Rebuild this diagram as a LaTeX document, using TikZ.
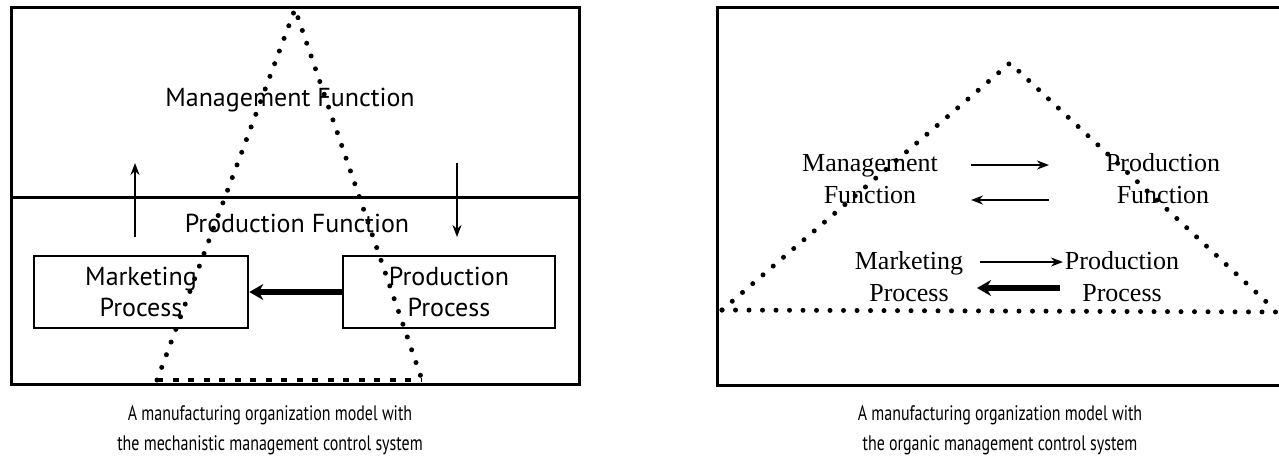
\documentclass[tikz,border=0pt]{standalone}
\usepackage{fontspec}
\setmainfont{Liberation Serif}
\newfontfamily\opt{PT Sans}
\newfontfamily\capfont[FakeStretch=0.76]{PT Sans}
\usetikzlibrary{arrows.meta}
\begin{document}
\begin{tikzpicture}[x=1pt,y=-1pt,
  frame/.style={line width=3pt},
  dotline/.style={line width=5pt, line cap=round, dash pattern=on 0pt off 13.5pt},
  baseline dash/.style={line width=4pt, dash pattern=on 6pt off 9.5pt},
  lbl/.style={font=\opt\fontsize{26}{31}\selectfont, align=center, inner sep=0pt},
  rlbl/.style={font=\fontsize{26}{32}\selectfont, align=center, inner sep=0pt},
  captext/.style={font=\capfont\fontsize{21}{30}\selectfont, align=center, inner sep=0pt},
  procbox/.style={draw, line width=2.6pt, minimum height=72pt, align=center,
    font=\opt\fontsize{26}{31}\selectfont, inner sep=0pt},
  thinarrow/.style={line width=2pt, -{Stealth[length=12pt,width=9pt]}},
  thickarrow/.style={line width=6pt, -{Stealth[length=14pt,width=16pt]}}
]
\useasboundingbox (0,0) rectangle (1279,459);
% ---------- left panel ----------
\draw[frame] (11,7) rectangle (579,384);
\draw[frame] (11,197) -- (579,197);
\coordinate (lA) at (295,9);
\coordinate (lL) at (157,380);
\coordinate (lR) at (422,380);
\draw[dotline] (lL) -- (lA) -- (lR);
\draw[baseline dash] (lL) -- (lR);
\node[lbl] (mf) at (290,100) {Management Function};
\node[lbl] (pf) at (297,223) {Production Function};
\node[procbox, minimum width=214pt] (mp) at (141,292) {Marketing\\Process};
\node[procbox, minimum width=212pt] (pp) at (449,292) {Production\\Process};
\draw[thickarrow] (pp.west) -- (mp.east);
\coordinate (u1) at (135,237);
\coordinate (u2) at (135,163);
\coordinate (d1) at (457,163);
\coordinate (d2) at (457,237);
\draw[thinarrow] (u1) -- (u2);
\draw[thinarrow] (d1) -- (d2);
% ---------- right panel ----------
\draw[frame] (1281,7) -- (717,7) -- (717,385) -- (1281,385);
\coordinate (rA) at (1010,63);
\coordinate (rL) at (722,310);
\coordinate (rR) at (1275,310);
\coordinate (rE) at (1279,312);
\draw[dotline] (rL) -- (rA) -- (rR);
\draw[dotline] (rL) -- (rE);
\node[rlbl] (rmf) at (870,179) {Management\\Function};
\node[rlbl] (rpf) at (1163,179) {Production\\Function};
\node[rlbl] (rmp) at (909,277) {Marketing\\Process};
\node[rlbl] (rpp) at (1122,277) {Production\\Process};
\coordinate (a1s) at (971,165);
\coordinate (a1e) at (1049,165);
\coordinate (a2s) at (1049,200);
\coordinate (a2e) at (971,200);
\coordinate (a3s) at (980,262);
\coordinate (a3e) at (1063,262);
\coordinate (a4s) at (1060,288);
\coordinate (a4e) at (977,288);
\draw[thinarrow] (a1s) -- (a1e);
\draw[thinarrow] (a2s) -- (a2e);
\draw[thinarrow] (a3s) -- (a3e);
\draw[thickarrow] (a4s) -- (a4e);
% ---------- captions ----------
\node[captext] (c1) at (270,430) {A manufacturing organization model with\\the mechanistic management control system};
\node[captext] (c2) at (1000,430) {A manufacturing organization model with\\the organic management control system};
\end{tikzpicture}
\end{document}
